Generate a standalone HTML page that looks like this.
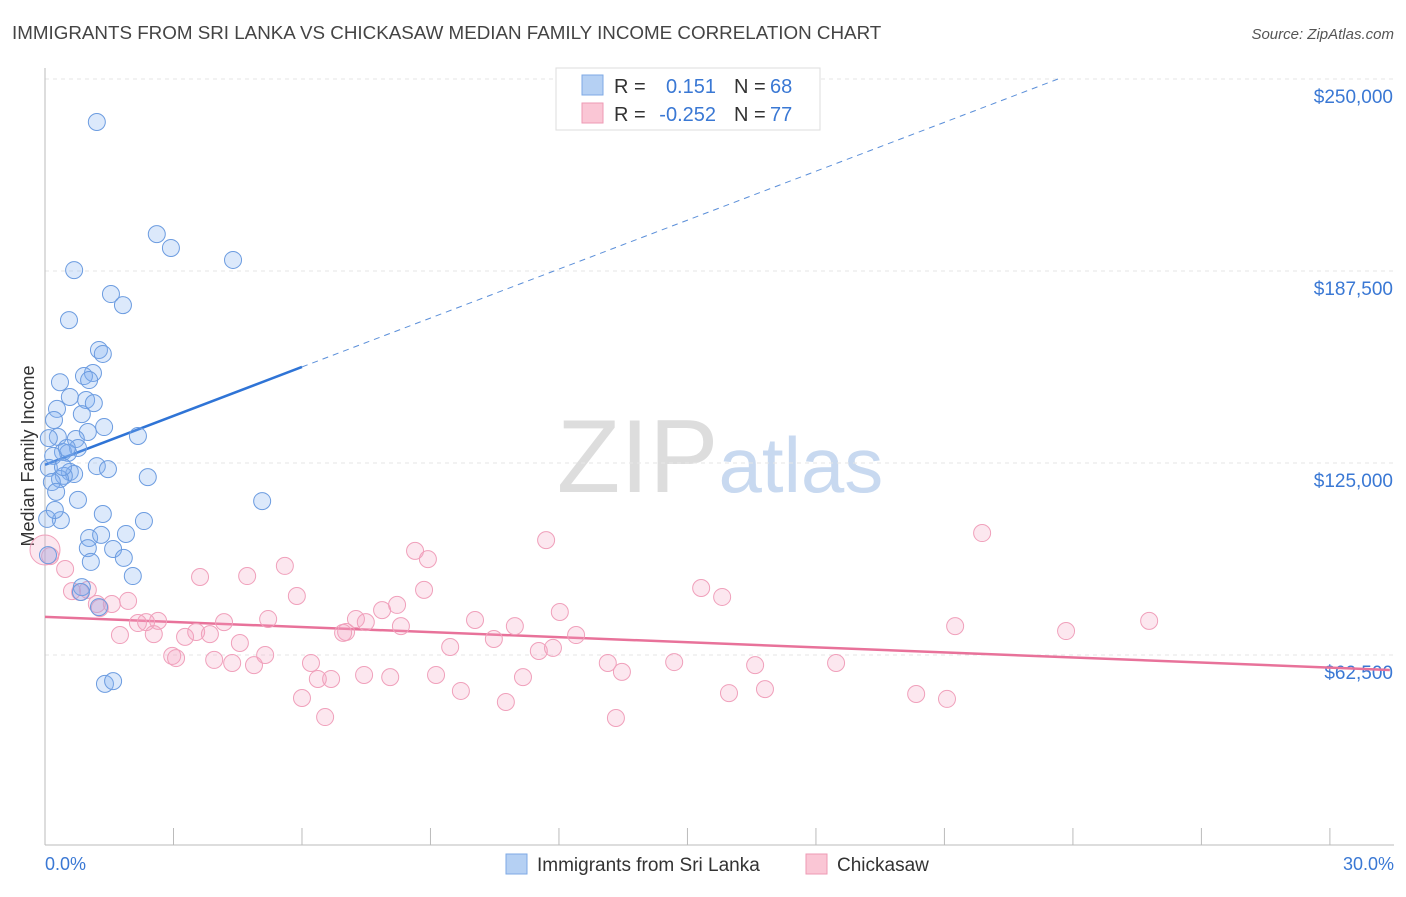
<!DOCTYPE html>
<html><head><meta charset="utf-8"><style>
body{margin:0;background:#fff;font-family:"Liberation Sans",sans-serif;}
svg text{font-family:"Liberation Sans",sans-serif;}
</style></head><body>
<svg id="chart" width="1406" height="892" xmlns="http://www.w3.org/2000/svg">
<text x="12" y="39" font-size="18.8" fill="#444">IMMIGRANTS FROM SRI LANKA VS CHICKASAW MEDIAN FAMILY INCOME CORRELATION CHART</text>
<text x="1394" y="39" font-size="15" fill="#555" text-anchor="end" font-style="italic">Source: ZipAtlas.com</text>
<text x="720" y="492" font-size="104" text-anchor="middle" fill="#ddd" font-family="Liberation Serif">ZIP<tspan fill="#c8d9f0" font-family="Liberation Sans" font-size="78">atlas</tspan></text>
<g id="grid"></g>
<line x1="45" y1="845" x2="1394" y2="845" stroke="#bbb"/>
<line x1="45" y1="68" x2="45" y2="845" stroke="#bbb"/>
<text transform="translate(34,456) rotate(-90)" font-size="18" fill="#333" text-anchor="middle">Median Family Income</text>
<text x="45" y="870" font-size="18" fill="#3a78d4">0.0%</text>
<text x="1394" y="870" font-size="18" fill="#3a78d4" text-anchor="end">30.0%</text>
<g id="ticks"></g>
<g id="lines"></g>
<g id="pts"></g>
<g>
<rect x="556" y="68" width="264" height="62" fill="#fff" stroke="#ddd"/>
<rect x="582" y="75" width="21" height="20" fill="#b5d0f3" stroke="#7ea9e4"/>
<rect x="582" y="103" width="21" height="20" fill="#fac6d5" stroke="#ee9ab4"/>
<text x="614" y="93" font-size="20" fill="#333">R =</text>
<text x="716" y="93" font-size="20" fill="#3a78d4" text-anchor="end">0.151</text>
<text x="734" y="93" font-size="20" fill="#333">N =</text>
<text x="770" y="93" font-size="20" fill="#3a78d4">68</text>
<text x="614" y="121" font-size="20" fill="#333">R =</text>
<text x="716" y="121" font-size="20" fill="#3a78d4" text-anchor="end">-0.252</text>
<text x="734" y="121" font-size="20" fill="#333">N =</text>
<text x="770" y="121" font-size="20" fill="#3a78d4">77</text>
</g>
<g>
<rect x="506" y="854" width="21" height="20" fill="#b5d0f3" stroke="#7ea9e4"/>
<text x="537" y="871" font-size="19" fill="#333">Immigrants from Sri Lanka</text>
<rect x="806" y="854" width="21" height="20" fill="#fac6d5" stroke="#ee9ab4"/>
<text x="837" y="871" font-size="19" fill="#333">Chickasaw</text>
</g>
</svg>
<script>
const yTicks=[62500,125000,187500,250000];
const yTickLabels=["$62,500","$125,000","$187,500","$250,000"];
const xTicks=[0,3,6,9,12,15,18,21,24,27,30];
const blueX=[1.21,2.61,2.94,4.39,0.68,1.54,1.82,0.56,1.26,1.35,1.12,0.91,0.35,1.03,0.28,0.58,0.96,1.14,0.86,0.21,1.38,2.17,1.00,0.72,0.30,0.09,0.77,0.42,0.54,0.19,0.09,1.21,1.47,0.58,0.68,0.44,0.35,2.40,0.16,0.26,0.77,5.07,1.35,2.31,0.37,0.05,1.03,1.31,1.89,1.00,1.59,1.84,1.07,0.07,2.05,0.86,0.84,1.26,1.40,1.59,0.42,0.51,0.23];
const blueY=[236.0,199.5,195.0,191.1,187.8,180.0,176.4,171.5,161.8,160.5,154.3,153.3,151.3,152.0,142.6,146.5,145.5,144.5,140.9,139.0,136.7,133.8,135.1,132.8,133.5,133.1,129.9,128.6,128.3,127.3,123.4,124.0,123.0,122.1,121.4,120.8,119.8,120.4,118.8,115.6,113.0,112.6,108.4,106.1,106.4,106.8,100.6,101.6,101.9,97.3,97.0,94.1,92.8,95.0,88.2,84.6,83.0,78.1,53.1,54.0,123.7,129.9,109.7];
const pinkX=[0.0,0.12,0.47,0.63,1.00,0.82,1.21,1.56,1.94,1.28,1.75,2.17,2.36,2.64,2.54,3.27,3.53,3.85,4.18,2.97,3.06,3.62,3.95,4.37,4.55,4.72,4.88,5.14,5.21,5.60,5.88,6.00,6.21,6.37,6.54,6.68,7.03,6.96,7.26,7.49,7.45,7.87,8.06,8.22,8.31,8.64,8.94,8.85,9.13,9.46,9.71,10.04,10.48,10.76,10.97,11.16,11.53,11.70,11.86,12.02,12.40,13.14,13.47,13.33,14.69,15.32,15.81,15.97,16.58,16.81,18.47,20.34,21.06,21.25,21.88,23.84,25.78];
const pinkY=[96.7,94.7,90.5,83.3,83.7,83.0,79.1,79.1,80.1,77.8,69.0,72.9,73.2,73.6,69.3,68.4,70.0,69.3,73.2,62.2,61.5,87.9,60.9,59.9,66.4,88.2,59.2,62.5,74.2,91.5,81.7,48.5,59.9,54.7,42.3,54.7,70.0,69.7,74.2,73.2,56.0,77.1,55.3,78.8,71.9,96.4,93.7,83.7,56.0,65.1,50.8,73.9,67.7,47.2,71.9,55.3,63.8,99.9,64.8,76.5,69.0,59.9,57.0,42.0,60.2,84.3,81.4,50.1,59.2,51.4,59.9,49.8,48.2,71.9,102.2,70.3,73.6];
const blueTrend=[124.4,5.31]; // intercept (k$), slope per %
const pinkTrend=[74.9,-0.55];
const NS="http://www.w3.org/2000/svg";
const sx=p=>45+p*42.83;
const sy=v=>79+(250000-v)*192/62500;
const syk=k=>sy(k*1000);
function mk(tag,attrs,parent){const e=document.createElementNS(NS,tag);for(const k in attrs)e.setAttribute(k,attrs[k]);parent.appendChild(e);return e;}
const grid=document.getElementById('grid'),ticks=document.getElementById('ticks'),lines=document.getElementById('lines'),pts=document.getElementById('pts');
yTicks.forEach((v,i)=>{
  const l=mk('line',{x1:45,x2:1394,y1:sy(v),y2:sy(v),stroke:'#e6e6e6','stroke-dasharray':'4,4'},grid);
  
  
  const t=mk('text',{x:1393,y:sy(v)+24,'font-size':19,fill:'#3a78d4','text-anchor':'end'},ticks);
  t.textContent=yTickLabels[i];
  
  
});
mk('line',{x1:45,x2:1394,y1:79,y2:79,stroke:'#e6e6e6','stroke-dasharray':'4,4'},grid);
xTicks.forEach(p=>{
  const l=mk('line',{x1:sx(p),x2:sx(p),y1:828,y2:845,stroke:'#bbb'},ticks);
  
  
});
const bl=mk('line',{x1:sx(0),y1:syk(blueTrend[0]),x2:sx(6),y2:syk(blueTrend[0]+6*blueTrend[1]),stroke:'#2f74d6','stroke-width':2.5},lines);


const xe=(250-blueTrend[0])/blueTrend[1];
const bd=mk('line',{x1:sx(6),y1:syk(blueTrend[0]+6*blueTrend[1]),x2:sx(xe),y2:syk(250),stroke:'#5b8fd9','stroke-width':1,'stroke-dasharray':'6,5'},lines);


const pl=mk('line',{x1:sx(0),y1:syk(pinkTrend[0]),x2:sx(31.4),y2:syk(pinkTrend[0]+31.4*pinkTrend[1]),stroke:'#e8729a','stroke-width':2.5},lines);


pinkX.forEach((x,i)=>{
  const c=mk('circle',{cx:sx(x),cy:syk(pinkY[i]),r:i===0?15:8.5,fill:'rgba(245,160,190,0.25)',stroke:'#f0a0bb','stroke-width':1},pts);
  
  
});
blueX.forEach((x,i)=>{
  const c=mk('circle',{cx:sx(x),cy:syk(blueY[i]),r:8.5,fill:'rgba(130,175,240,0.28)',stroke:'#6c9ce0','stroke-width':1},pts);
  
  
});
</script>
</body></html>
